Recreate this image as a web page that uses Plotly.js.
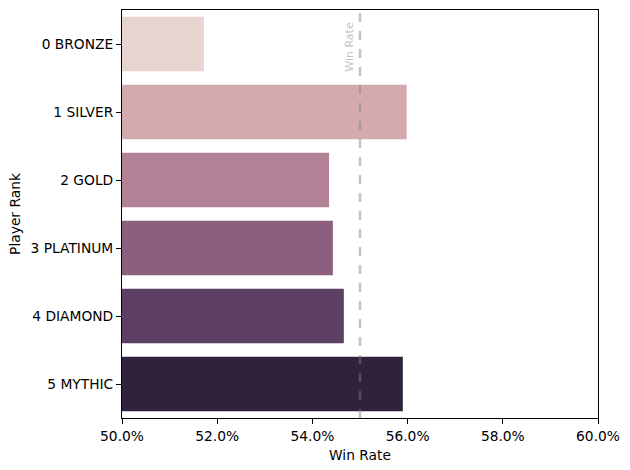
<!DOCTYPE html>
<html><head><meta charset="utf-8">
<script src="https://cdn.plot.ly/plotly-3.0.1.min.js"></script>
<style>html,body{margin:0;padding:0;background:#fff}</style>
</head><body>
<div id="chart" style="width:630px;height:470px"></div>
<script>
const ranks = ["0 BRONZE", "1 SILVER", "2 GOLD", "3 PLATINUM", "4 DIAMOND", "5 MYTHIC"];
const winRates = [0.5172, 0.5598, 0.5435, 0.5443, 0.5466, 0.5590];
const barColors = ["#e8d4d0", "#d4aab0", "#b48296", "#8b5e7e", "#5d3f63", "#2f223b"];
const refLine = 0.55;
const refLabel = "Win Rate";

const font = {family: "DejaVu Sans", size: 13.8, color: "#000"};
const trace = {
  type: "bar", orientation: "h",
  x: winRates.map(v => v - 0.5), base: 0.5, y: ranks,
  marker: {color: barColors, line: {width: 0}},
  width: 0.8, hoverinfo: "skip"
};
const layout = {
  width: 630, height: 470,
  margin: {l: 122, r: 32, t: 10, b: 52},
  paper_bgcolor: "#fff", plot_bgcolor: "#fff",
  font: font, showlegend: false,
  xaxis: {
    range: [0.5, 0.6], tickformat: ".1%", dtick: 0.02, tick0: 0.5,
    showgrid: false, zeroline: false,
    showline: true, mirror: true, linecolor: "#000", linewidth: 1,
    ticks: "outside", ticklen: 5, tickcolor: "#000", tickwidth: 1,
    title: {text: "Win Rate", font: font, standoff: 7}
  },
  yaxis: {
    autorange: false, range: [5.5, -0.5], type: "category",
    showgrid: false, zeroline: false,
    showline: true, mirror: true, linecolor: "#000", linewidth: 1,
    ticks: "outside", ticklen: 5, tickcolor: "#000", tickwidth: 1,
    title: {text: "Player Rank", font: font, standoff: 6}
  },
  shapes: [{
    type: "line", xref: "x", yref: "paper", x0: refLine, x1: refLine, y0: 0, y1: 1,
    line: {color: "rgba(128,128,128,0.47)", width: 2.5, dash: "dash"}, layer: "above"
  }],
  annotations: [{
    text: refLabel, xref: "x", yref: "paper", x: refLine, y: 0.975,
    xanchor: "right", yanchor: "top", xshift: -2, textangle: -90,
    showarrow: false, font: {family: "DejaVu Sans", size: 11, color: "rgba(128,128,128,0.5)"}
  }]
};
Plotly.newPlot("chart", [trace], layout, {staticPlot: true, displayModeBar: false});
</script>
</body></html>
